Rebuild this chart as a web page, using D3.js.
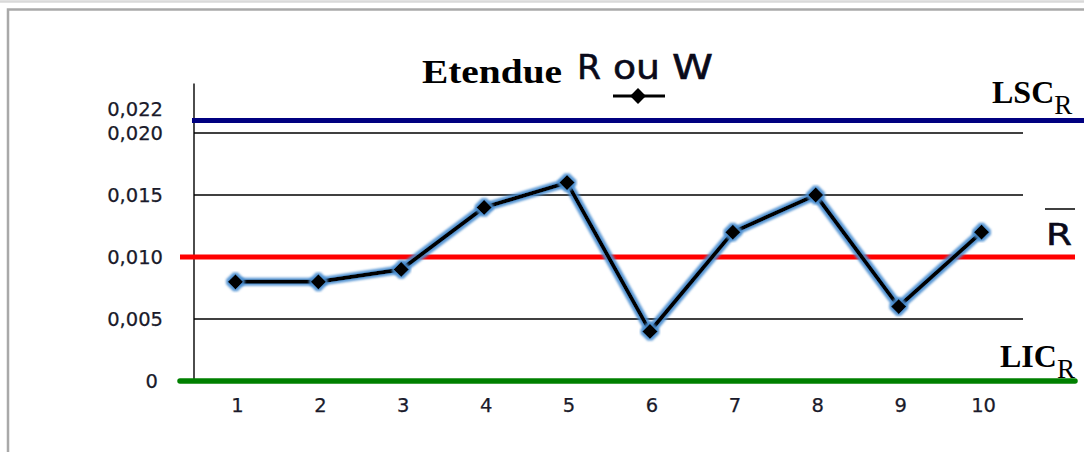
<!DOCTYPE html>
<html>
<head>
<meta charset="utf-8">
<script src="https://cdn.jsdelivr.net/npm/d3@7"></script>
<style>
  html, body { margin: 0; padding: 0; background: #fff; }
  svg { display: block; }
</style>
</head>
<body>
<div id="chart"></div>
<script>
// ---- data ----
const categories = ["1", "2", "3", "4", "5", "6", "7", "8", "9", "10"];
const rangeValues = [0.008, 0.008, 0.009, 0.014, 0.016, 0.004, 0.012, 0.015, 0.006, 0.012];
const yTicks = [0, 0.005, 0.010, 0.015, 0.020, 0.022];
const yTickLabels = ["0", "0,005", "0,010", "0,015", "0,020", "0,022"];
const gridValues = [0.005, 0.010, 0.015, 0.020];
const limitLSC = 0.021;
const limitRbar = 0.010;
const limitLIC = 0;

// ---- setup ----
const W = 1084, H = 452;
const svg = d3.select("#chart").append("svg").attr("width", W).attr("height", H);

const defs = svg.append("defs");
const glow = defs.append("filter").attr("id", "glow")
  .attr("x", "-20%").attr("y", "-20%").attr("width", "140%").attr("height", "140%");
glow.append("feMorphology").attr("in", "SourceAlpha").attr("operator", "dilate").attr("radius", 1.5).attr("result", "d");
glow.append("feGaussianBlur").attr("in", "d").attr("stdDeviation", 1.1).attr("result", "b");
glow.append("feFlood").attr("flood-color", "#4a8ed0").attr("flood-opacity", 0.9).attr("result", "c");
glow.append("feComposite").attr("in", "c").attr("in2", "b").attr("operator", "in").attr("result", "g");
const m = glow.append("feMerge");
m.append("feMergeNode").attr("in", "g");
m.append("feMergeNode").attr("in", "SourceGraphic");

// frame
svg.append("line").attr("x1", 0).attr("x2", W).attr("y1", 1.5).attr("y2", 1.5)
  .attr("stroke", "#d9d9d9").attr("stroke-width", 2.5);
svg.append("rect").attr("x", 8).attr("y", 9.5).attr("width", W + 20).attr("height", H + 20)
  .attr("fill", "none").attr("stroke", "#a9a9a9").attr("stroke-width", 2.5);

// scales
const x = d3.scalePoint().domain(categories).range([194, 1023]).padding(0.5);
const y = d3.scaleLinear().domain([0, 0.024]).range([381, 83.4]);

// gridlines
svg.append("g").selectAll("line").data(gridValues).join("line")
  .attr("x1", 194).attr("x2", 1023)
  .attr("y1", d => y(d)).attr("y2", d => y(d))
  .attr("stroke", "#000").attr("stroke-width", 1.4);

// y axis line
svg.append("line").attr("x1", 194).attr("x2", 194).attr("y1", y(0.024)).attr("y2", y(0))
  .attr("stroke", "#000").attr("stroke-width", 1.4);

const sans = "DejaVu Sans, Verdana, sans-serif";
const serif = "Liberation Serif, Times New Roman, serif";

// y tick labels
svg.append("g").selectAll("text").data(yTicks).join("text")
  .attr("x", d => d === 0 ? 158 : 163)
  .attr("y", d => y(d))
  .attr("dy", "0.38em")
  .attr("text-anchor", "end")
  .attr("font-family", sans)
  .attr("font-size", 19.5)
  .attr("fill", "#1a1a2a")
  .attr("stroke", "#1a1a2a").attr("stroke-width", 0.25)
  .text((d, i) => yTickLabels[i]);

// x tick labels
svg.append("g").selectAll("text").data(categories).join("text")
  .attr("x", d => x(d) + 2)
  .attr("y", 405)
  .attr("dy", "0.36em")
  .attr("text-anchor", "middle")
  .attr("font-family", sans)
  .attr("font-size", 19.5)
  .attr("fill", "#1a1a2a")
  .attr("stroke", "#1a1a2a").attr("stroke-width", 0.25)
  .text(d => d);

// control limit lines
svg.append("line").attr("x1", 192).attr("x2", W).attr("y1", y(limitLSC)).attr("y2", y(limitLSC))
  .attr("stroke", "#000080").attr("stroke-width", 5);
svg.append("line").attr("x1", 180).attr("x2", 1075).attr("y1", y(limitRbar)).attr("y2", y(limitRbar))
  .attr("stroke", "#ff0000").attr("stroke-width", 5);
svg.append("line").attr("x1", 180).attr("x2", 1075).attr("y1", y(limitLIC)).attr("y2", y(limitLIC))
  .attr("stroke", "#008000").attr("stroke-width", 5.5).attr("stroke-linecap", "round");

// series line
const pts = categories.map((c, i) => [x(c), y(rangeValues[i])]);
svg.append("path")
  .attr("d", d3.line()(pts))
  .attr("fill", "none")
  .attr("stroke", "#000")
  .attr("stroke-width", 4)
  .attr("stroke-linejoin", "round")
  .attr("filter", "url(#glow)");

// markers
const diamond = d3.symbol().type(d3.symbolDiamond2).size(150);
svg.append("g").selectAll("path").data(pts).join("path")
  .attr("transform", d => `translate(${d[0]},${d[1]})`)
  .attr("d", diamond)
  .attr("fill", "#000")
  .attr("filter", "url(#glow)");

// title
const title = svg.append("g");
title.append("text").attr("x", 422).attr("y", 83)
  .attr("font-family", serif)
  .attr("font-weight", "bold").attr("font-size", 33)
  .attr("textLength", 140).attr("lengthAdjust", "spacingAndGlyphs")
  .text("Etendue");
const tStyle = s => s.attr("font-family", sans).attr("font-size", 33)
  .attr("fill", "#0a0a1a").attr("stroke", "#0a0a1a").attr("stroke-width", 0.55);
title.append("text").attr("x", 577).attr("y", 79).call(tStyle)
  .attr("textLength", 24).attr("lengthAdjust", "spacingAndGlyphs").text("R");
title.append("text").attr("x", 613).attr("y", 79).call(tStyle)
  .attr("textLength", 47).attr("lengthAdjust", "spacingAndGlyphs").text("ou");
title.append("text").attr("x", 672).attr("y", 79).call(tStyle)
  .attr("textLength", 41).attr("lengthAdjust", "spacingAndGlyphs").text("W");
// legend marker under "ou"
title.append("line").attr("x1", 613).attr("x2", 665).attr("y1", 96).attr("y2", 96)
  .attr("stroke", "#000").attr("stroke-width", 3);
title.append("path").attr("transform", "translate(638,96)")
  .attr("d", d3.symbol().type(d3.symbolDiamond2).size(160)).attr("fill", "#000");

// limit labels
function limitLabel(xp, yp, main, sub) {
  const t = svg.append("text").attr("x", xp).attr("y", yp)
    .attr("font-family", serif).attr("fill", "#000");
  t.append("tspan").attr("font-weight", "bold").attr("font-size", 32).text(main);
  t.append("tspan").attr("font-size", 27).attr("dy", 11).text(sub);
}
limitLabel(992, 103, "LSC", "R");
limitLabel(1000, 367, "LIC", "R");

// R bar label
svg.append("text").attr("x", 1046).attr("y", 245)
  .attr("font-family", sans).attr("font-size", 30)
  .attr("fill", "#0a0a1a").attr("stroke", "#0a0a1a").attr("stroke-width", 0.55)
  .attr("textLength", 26).attr("lengthAdjust", "spacingAndGlyphs")
  .text("R");
svg.append("line").attr("x1", 1045).attr("x2", 1075).attr("y1", 209).attr("y2", 209)
  .attr("stroke", "#000").attr("stroke-width", 1.5);
</script>
</body>
</html>
